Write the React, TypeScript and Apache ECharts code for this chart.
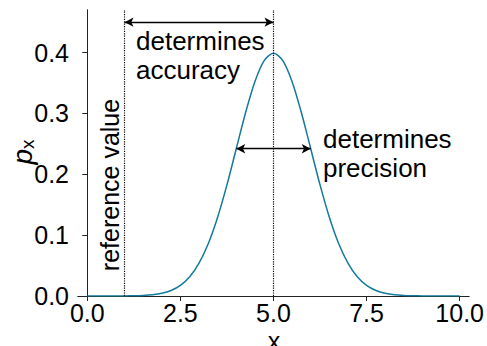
import React, { useEffect, useRef } from "react";
import * as echarts from "echarts";

// x positions of the plotted curve
const xValues = [
  0, 0.25, 0.5, 0.75, 1, 1.25, 1.5, 1.75, 2, 2.25, 2.5, 2.75, 3, 3.25, 3.5, 3.75, 4, 4.25, 4.5, 4.75,
  5, 5.25, 5.5, 5.75, 6, 6.25, 6.5, 6.75, 7, 7.25, 7.5, 7.75, 8, 8.25, 8.5, 8.75, 9, 9.25, 9.5, 9.75, 10,
];
// probability density
const pxValues = [
  0.0, 0.0, 0.0, 0.0, 0.0001, 0.0004, 0.0009, 0.002, 0.0044, 0.0091, 0.0175, 0.0317, 0.054, 0.0863,
  0.1295, 0.1826, 0.242, 0.3011, 0.3521, 0.3867, 0.3989, 0.3867, 0.3521, 0.3011, 0.242, 0.1826,
  0.1295, 0.0863, 0.054, 0.0317, 0.0175, 0.0091, 0.0044, 0.002, 0.0009, 0.0004, 0.0001, 0.0, 0.0,
  0.0, 0.0,
];
const xTicks = [0, 2.5, 5, 7.5, 10];
const yTicks = [0, 0.1, 0.2, 0.3, 0.4];
const referenceX = 1;
const meanX = 5;
const accuracyArrowY = 0.45;
const precisionFrom = 4;
const precisionTo = 6;
const precisionArrowY = 0.242;

const FONT = "'Liberation Sans', Arial, sans-serif";
const CURVE = "#137a9e";

export default function App() {
  const ref = useRef<HTMLDivElement>(null);
  useEffect(() => {
    document.body.style.margin = "0";
    if (!ref.current) return;
    const chart = echarts.init(ref.current, undefined, { renderer: "svg" });
    const arrowStyle = { color: "#000", width: 1.3, type: "solid" as const };
    const frame = { show: true, lineStyle: { color: "#222", width: 1 } };
    chart.setOption({
      animation: false,
      grid: { left: 78, right: 16, top: 10, bottom: 50 },
      xAxis: [
        {
          type: "value",
          min: -0.25,
          max: 10.25,
          axisLine: frame,
          axisTick: {
            show: true,
            inside: false,
            length: 5,
            customValues: xTicks,
            lineStyle: { color: "#222" },
          },
          axisLabel: {
            customValues: xTicks,
            formatter: (v: number) => v.toFixed(1),
            fontSize: 25,
            fontFamily: FONT,
            color: "#000",
            margin: 4,
          },
          splitLine: { show: false },
        },
        {
          type: "value",
          position: "top",
          min: -0.25,
          max: 10.25,
          axisLine: frame,
          axisTick: { show: false },
          axisLabel: { show: false },
          splitLine: { show: false },
        },
      ],
      yAxis: [
        {
          type: "value",
          min: 0,
          max: 0.47,
          axisLine: frame,
          axisTick: {
            show: true,
            inside: false,
            length: 5,
            customValues: yTicks,
            lineStyle: { color: "#222" },
          },
          axisLabel: {
            customValues: yTicks,
            formatter: (v: number) => v.toFixed(1),
            fontSize: 25,
            fontFamily: FONT,
            color: "#000",
            margin: 9,
          },
          splitLine: { show: false },
        },
        {
          type: "value",
          position: "right",
          min: 0,
          max: 0.47,
          axisLine: frame,
          axisTick: { show: false },
          axisLabel: { show: false },
          splitLine: { show: false },
        },
      ],
      series: [
        {
          type: "line",
          data: xValues.map((x, i) => [x, pxValues[i]]),
          showSymbol: false,
          smooth: 0.3,
          lineStyle: { color: CURVE, width: 1.5 },
          silent: true,
          z: 3,
          markLine: {
            silent: true,
            animation: false,
            symbol: ["none", "none"],
            label: { show: false },
            emphasis: { disabled: true },
            lineStyle: { color: "#000", width: 1.2, type: "dotted" },
            data: [{ xAxis: referenceX }, { xAxis: meanX }],
          },
        },
        {
          type: "line",
          data: [],
          silent: true,
          z: 4,
          markLine: {
            silent: true,
            animation: false,
            symbol: ["arrow", "arrow"],
            symbolSize: [7, 9],
            label: { show: false },
            emphasis: { disabled: true },
            lineStyle: arrowStyle,
            data: [
              [{ coord: [referenceX, accuracyArrowY] }, { coord: [meanX, accuracyArrowY] }],
              [{ coord: [precisionFrom, precisionArrowY] }, { coord: [precisionTo, precisionArrowY] }],
            ],
          },
        },
      ],
      graphic: [
        {
          type: "text",
          x: 136,
          y: 26,
          style: {
            text: "determines\naccuracy",
            fontSize: 26,
            lineHeight: 29,
            fontFamily: FONT,
            fill: "#000",
            align: "left",
            verticalAlign: "top",
          },
        },
        {
          type: "text",
          x: 323,
          y: 124,
          style: {
            text: "determines\nprecision",
            fontSize: 26,
            lineHeight: 29,
            fontFamily: FONT,
            fill: "#000",
            align: "left",
            verticalAlign: "top",
          },
        },
        {
          type: "text",
          x: 110,
          y: 185,
          rotation: Math.PI / 2,
          style: {
            text: "reference value",
            fontSize: 25,
            fontFamily: FONT,
            fill: "#000",
            align: "center",
            verticalAlign: "middle",
          },
        },
        {
          type: "text",
          x: 22,
          y: 152,
          rotation: Math.PI / 2,
          style: {
            text: "{p|p}{s|x}",
            fontFamily: FONT,
            fill: "#000",
            align: "center",
            verticalAlign: "middle",
            rich: {
              p: { fontSize: 28, fontStyle: "italic", fontFamily: FONT, fill: "#000" },
              s: { fontSize: 19, fontFamily: FONT, fill: "#000", verticalAlign: "bottom", padding: [10, 0, 0, 0] },
            },
          },
        },
        {
          type: "text",
          x: 274,
          y: 341,
          style: {
            text: "x",
            fontSize: 25,
            fontFamily: FONT,
            fill: "#000",
            align: "center",
            verticalAlign: "middle",
          },
        },
      ],
    });
    return () => chart.dispose();
  }, []);
  return <div ref={ref} style={{ width: 487, height: 346 }} />;
}
